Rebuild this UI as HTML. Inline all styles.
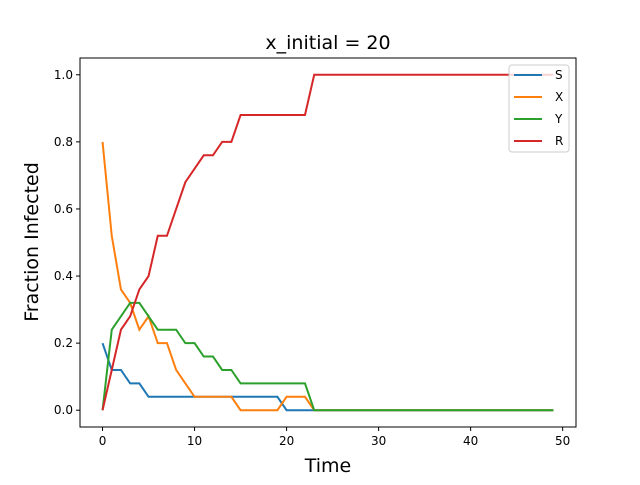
<!DOCTYPE html>
<html><head><meta charset="utf-8"><style>
body{margin:0;background:#fff;}
svg text{font-family:"DejaVu Sans","Liberation Sans",sans-serif;}
</style></head><body>
<svg id="chart" width="640" height="480" xmlns="http://www.w3.org/2000/svg">
<rect width="640" height="480" fill="#fff"/>
<text x="328" y="49" font-size="19" text-anchor="middle">x_initial = 20</text>
<g id="plot"></g>
<g id="axes"></g>
<text x="328" y="472" font-size="19" text-anchor="middle">Time</text>
<text transform="translate(38,242) rotate(-90)" font-size="19" text-anchor="middle">Fraction Infected</text>
<g id="legend"></g>
</svg>
<script>
const seriesNames=["S","X","Y","R"];
const colors=["#1f77b4","#ff7f0e","#2ca02c","#d62728"];
const sVals=[0.2,0.12,0.12,0.08,0.08,0.04,0.04,0.04,0.04,0.04,0.04,0.04,0.04,0.04,0.04,0.04,0.04,0.04,0.04,0.04,0,0,0,0];
const xVals=[0.8,0.52,0.36,0.32,0.24,0.28,0.2,0.2,0.12,0.08,0.04,0.04,0.04,0.04,0.04,0,0,0,0,0,0.04,0.04,0.04,0];
const yVals=[0,0.24,0.28,0.32,0.32,0.28,0.24,0.24,0.24,0.2,0.2,0.16,0.16,0.12,0.12,0.08,0.08,0.08,0.08,0.08,0.08,0.08,0.08,0];
const rVals=[0,0.12,0.24,0.28,0.36,0.4,0.52,0.52,0.6,0.68,0.72,0.76,0.76,0.8,0.8,0.88,0.88,0.88,0.88,0.88,0.88,0.88,0.88,1];
const nPoints=50;
const xTicks=[0,10,20,30,40,50];
const yTicks=[0,0.2,0.4,0.6,0.8,1.0];
const NS="http://www.w3.org/2000/svg";
const L=80,R=576,T=58,B=427;
const xmin=-2.45,xmax=51.45,ymin=-0.05,ymax=1.05;
const xs=v=>L+(v-xmin)/(xmax-xmin)*(R-L);
const ys=v=>B-(v-ymin)/(ymax-ymin)*(B-T);
function full(a){const o=a.slice();const last=a[a.length-1];while(o.length<nPoints)o.push(last);return o;}
const plot=document.getElementById('plot');
[sVals,xVals,yVals,rVals].forEach((arr,i)=>{
  const d=full(arr).map((v,t)=>(t?'L':'M')+xs(t).toFixed(2)+','+ys(v).toFixed(2)).join('');
  const p=document.createElementNS(NS,'path');
  p.setAttribute('d',d);p.setAttribute('fill','none');p.setAttribute('stroke',colors[i]);p.setAttribute('stroke-width','2');
  
  
  plot.appendChild(p);
});
const ax=document.getElementById('axes');
const fr=document.createElementNS(NS,'rect');
fr.setAttribute('x',L);fr.setAttribute('y',T);fr.setAttribute('width',R-L);fr.setAttribute('height',B-T);
fr.setAttribute('fill','none');fr.setAttribute('stroke','#000');fr.setAttribute('stroke-width','1');


ax.appendChild(fr);
xTicks.forEach(v=>{
  const x=xs(v);
  const l=document.createElementNS(NS,'line');
  l.setAttribute('x1',x);l.setAttribute('x2',x);l.setAttribute('y1',B);l.setAttribute('y2',B+4);l.setAttribute('stroke','#000');
  
  
  ax.appendChild(l);
  const t=document.createElementNS(NS,'text');
  t.setAttribute('x',x);t.setAttribute('y',B+18);t.setAttribute('font-size','12');t.setAttribute('text-anchor','middle');
  t.textContent=v;
  
  
  ax.appendChild(t);
});
yTicks.forEach(v=>{
  const y=ys(v);
  const l=document.createElementNS(NS,'line');
  l.setAttribute('x1',L-4);l.setAttribute('x2',L);l.setAttribute('y1',y);l.setAttribute('y2',y);l.setAttribute('stroke','#000');
  
  
  ax.appendChild(l);
  const t=document.createElementNS(NS,'text');
  t.setAttribute('x',L-7);t.setAttribute('y',y+4);t.setAttribute('font-size','12');t.setAttribute('text-anchor','end');
  t.textContent=v.toFixed(1);
  
  
  ax.appendChild(t);
});
const lg=document.getElementById('legend');
const box=document.createElementNS(NS,'rect');
box.setAttribute('x',509);box.setAttribute('y',65);box.setAttribute('width',60);box.setAttribute('height',87);box.setAttribute('rx',3);
box.setAttribute('fill','#fff');box.setAttribute('fill-opacity','0.8');box.setAttribute('stroke','#ccc');


lg.appendChild(box);
seriesNames.forEach((n,i)=>{
  const y=75+i*22;
  const l=document.createElementNS(NS,'line');
  l.setAttribute('x1',514);l.setAttribute('x2',542);l.setAttribute('y1',y);l.setAttribute('y2',y);l.setAttribute('stroke',colors[i]);l.setAttribute('stroke-width','2');
  
  
  lg.appendChild(l);
  const t=document.createElementNS(NS,'text');
  t.setAttribute('x',555);t.setAttribute('y',y+4);t.setAttribute('font-size','12');
  t.textContent=n;
  
  
  lg.appendChild(t);
});
</script>
</body></html>
